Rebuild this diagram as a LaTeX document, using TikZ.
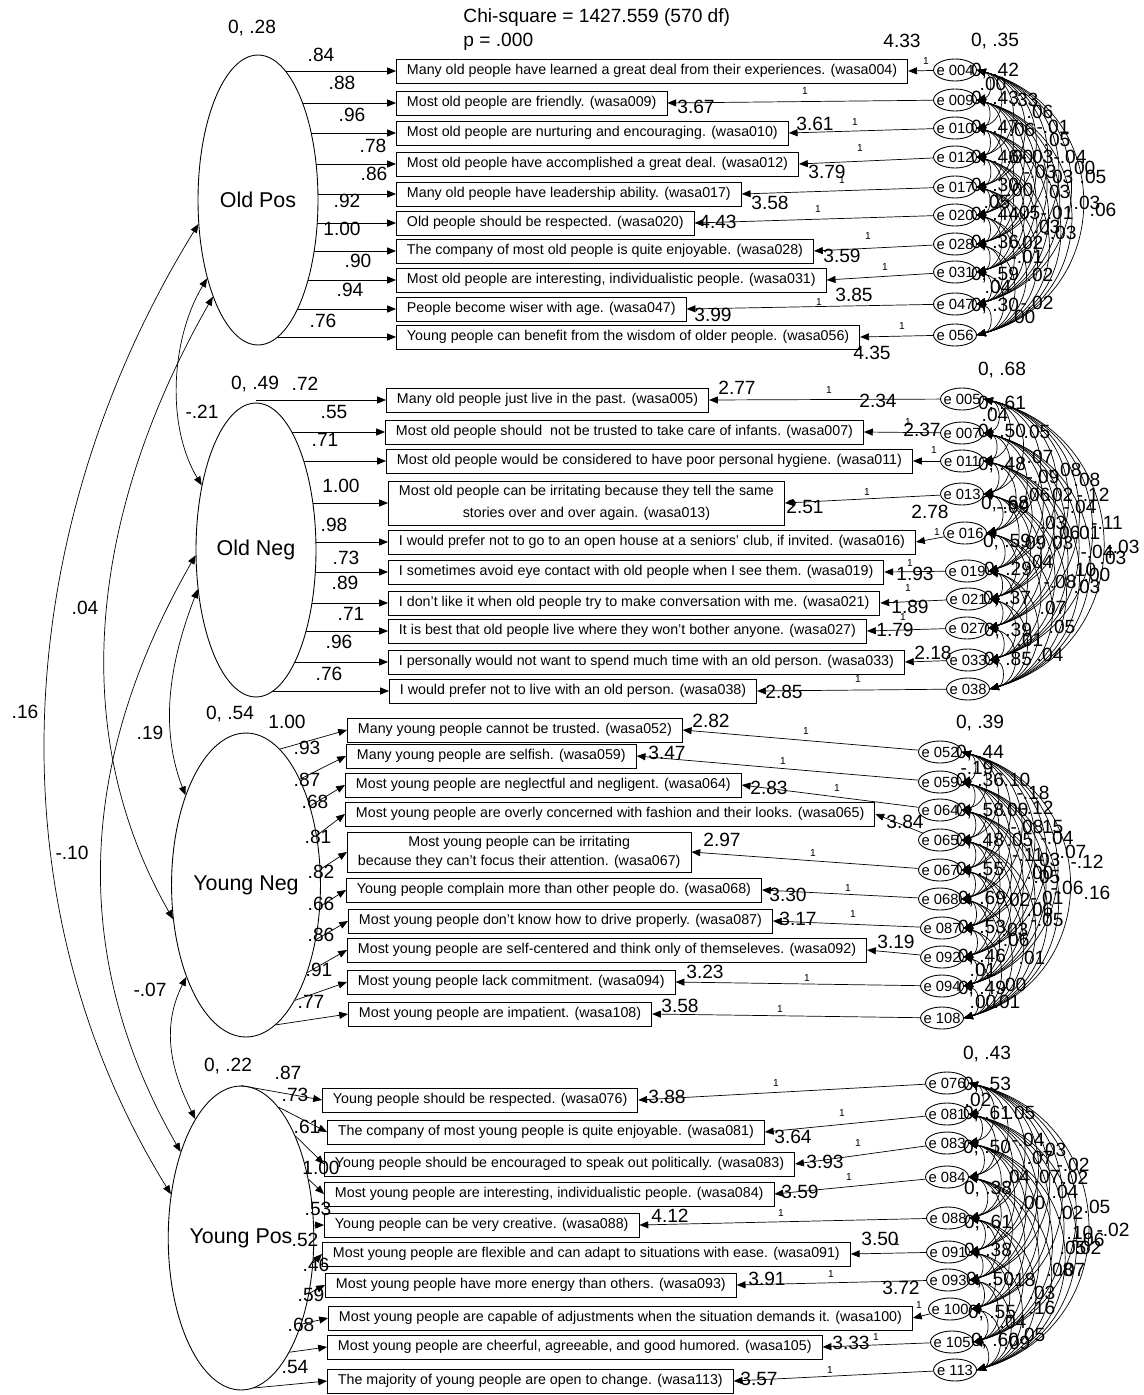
\documentclass[tikz,border=0pt]{standalone}
\usepackage{fontspec}
\setmainfont{Liberation Sans}
\usetikzlibrary{shapes.geometric,arrows.meta}
\pgfdeclarelayer{bg}
\pgfsetlayers{bg,main}
\newcommand{\ename}[1]{\makebox[0pt]{e #1}}
\tikzset{
  >={Triangle[length=5pt,width=4pt]},
  latent/.style={draw, ellipse, fill=white, inner sep=0pt, font=\fontsize{12.2}{14}\selectfont},
  item/.style={draw, anchor=west, inner xsep=6pt, inner ysep=1pt, minimum height=0.48cm, font=\fontsize{8.1}{9.7}\selectfont},
  err/.style={draw, ellipse, inner sep=0pt, minimum width=0.86cm, minimum height=0.44cm, font=\fontsize{8.4}{9}\selectfont},
  num/.style={inner sep=0pt, font=\fontsize{10.9}{12}\selectfont},
  one/.style={inner sep=0pt, font=\fontsize{5.8}{7}\selectfont},
}
\begin{document}
\begin{tikzpicture}[x=0.02cm, y=-0.02cm, line width=0.5pt]
\useasboundingbox (0,0) rectangle (1143,1395);

\node[num, anchor=west] (chi) at (463,18) {Chi-square = 1427.559 (570 df)};
\node[num, anchor=west] (pval) at (463,42) {p = .000};

% latent factors
\node[latent, minimum width=2.4cm, minimum height=5.8cm] (OldPos) at (258,200) {Old Pos};
\node[latent, minimum width=2.4cm, minimum height=5.88cm] (OldNeg) at (256,550) {Old Neg};
\node[latent, minimum width=2.36cm, minimum height=6.08cm] (YoungNeg) at (246,885) {Young Neg};
\node[latent, minimum width=2.4cm, minimum height=6.08cm] (YoungPos) at (241,1238) {Young Pos};
\node[num] at (252,28) {0, .28};
\node[num] at (255,384) {0, .49};
\node[num] at (230,714) {0, .54};
\node[num] at (228,1066) {0, .22};

% Old Pos items
\node[item] (b004) at (396,71) {Many old people have learned a great deal from their experiences. (wasa004)};
\node[item] (b009) at (396,103) {Most old people are friendly. (wasa009)};
\node[item] (b010) at (396,133) {Most old people are nurturing and encouraging. (wasa010)};
\node[item] (b012) at (396,164) {Most old people have accomplished a great deal. (wasa012)};
\node[item] (b017) at (396,194) {Many old people have leadership ability. (wasa017)};
\node[item] (b020) at (396,223) {Old people should be respected. (wasa020)};
\node[item] (b028) at (396,251) {The company of most old people is quite enjoyable. (wasa028)};
\node[item] (b031) at (396,280) {Most old people are interesting, individualistic people. (wasa031)};
\node[item] (b047) at (396,309) {People become wiser with age. (wasa047)};
\node[item] (b056) at (396,337) {Young people can benefit from the wisdom of older people. (wasa056)};

% Old Neg items
\node[item] (b005) at (386,400) {Many old people just live in the past. (wasa005)};
\node[item] (b007) at (385,432) {Most old people should\ \ not be trusted to take care of infants. (wasa007)};
\node[item] (b011) at (386,461) {Most old people would be considered to have poor personal hygiene. (wasa011)};
\node[item, align=center, minimum height=0.88cm] (b013) at (388,503) {Most old people can be irritating because they tell the same\\[3pt] stories over and over again. (wasa013)};
\node[item] (b016) at (388,542) {I would prefer not to go to an open house at a seniors' club, if invited. (wasa016)};
\node[item] (b019) at (388,572) {I sometimes avoid eye contact with old people when I see them. (wasa019)};
\node[item] (b021) at (388,603) {I don't like it when old people try to make conversation with me. (wasa021)};
\node[item] (b027) at (388,631) {It is best that old people live where they won't bother anyone. (wasa027)};
\node[item] (b033) at (388,662) {I personally would not want to spend much time with an old person. (wasa033)};
\node[item] (b038) at (389,691) {I would prefer not to live with an old person. (wasa038)};

% Young Neg items
\node[item] (b052) at (347,730) {Many young people cannot be trusted. (wasa052)};
\node[item] (b059) at (346,756) {Many young people are selfish. (wasa059)};
\node[item] (b064) at (345,785) {Most young people are neglectful and negligent. (wasa064)};
\node[item] (b065) at (345,814) {Most young people are overly concerned with fashion and their looks. (wasa065)};
\node[item, align=center, minimum height=0.8cm] (b067) at (347,852) {Most young people can be irritating\\[1pt] because they can't focus their attention. (wasa067)};
\node[item] (b068) at (346,890) {Young people complain more than other people do. (wasa068)};
\node[item] (b087) at (348,921) {Most young people don't know how to drive properly. (wasa087)};
\node[item] (b092) at (347,950) {Most young people are self-centered and think only of themseleves. (wasa092)};
\node[item] (b094) at (347,982) {Most young people lack commitment. (wasa094)};
\node[item] (b108) at (348,1014) {Most young people are impatient. (wasa108)};

% Young Pos items
\node[item] (b076) at (322,1100) {Young people should be respected. (wasa076)};
\node[item] (b081) at (327,1132) {The company of most young people is quite enjoyable. (wasa081)};
\node[item] (b083) at (324,1164) {Young people should be encouraged to speak out politically. (wasa083)};
\node[item] (b084) at (324,1194) {Most young people are interesting, individualistic people. (wasa084)};
\node[item] (b088) at (324,1225) {Young people can be very creative. (wasa088)};
\node[item] (b091) at (322,1254) {Most young people are flexible and can adapt to situations with ease. (wasa091)};
\node[item] (b093) at (325,1285) {Most young people have more energy than others. (wasa093)};
\node[item] (b100) at (328,1318) {Most young people are capable of adjustments when the situation demands it. (wasa100)};
\node[item] (b105) at (327,1347) {Most young people are cheerful, agreeable, and good humored. (wasa105)};
\node[item] (b113) at (327,1381) {The majority of young people are open to change. (wasa113)};

% error terms
\node[err, alias=A1] (e004) at (955,70) {\ename{004}};
\node[err, alias=A2] (e009) at (955,100) {\ename{009}};
\node[err, alias=A3] (e010) at (955,128) {\ename{010}};
\node[err, alias=A4] (e012) at (955,157) {\ename{012}};
\node[err, alias=A5] (e017) at (955,187) {\ename{017}};
\node[err, alias=A6] (e020) at (955,215) {\ename{020}};
\node[err, alias=A7] (e028) at (955,244) {\ename{028}};
\node[err, alias=A8] (e031) at (955,272) {\ename{031}};
\node[err, alias=A9] (e047) at (955,304) {\ename{047}};
\node[err, alias=A10] (e056) at (955,335) {\ename{056}};

\node[err, alias=B1] (e005) at (962,399) {\ename{005}};
\node[err, alias=B2] (e007) at (962,433) {\ename{007}};
\node[err, alias=B3] (e011) at (962,461) {\ename{011}};
\node[err, alias=B4] (e013) at (962,494) {\ename{013}};
\node[err, alias=B5] (e016) at (965,533) {\ename{016}};
\node[err, alias=B6] (e019) at (967,571) {\ename{019}};
\node[err, alias=B7] (e021) at (968,599) {\ename{021}};
\node[err, alias=B8] (e027) at (967,628) {\ename{027}};
\node[err, alias=B9] (e033) at (968,660) {\ename{033}};
\node[err, alias=B10] (e038) at (968,689) {\ename{038}};

\node[err, alias=C1] (e052) at (940,752) {\ename{052}};
\node[err, alias=C2] (e059) at (940,782) {\ename{059}};
\node[err, alias=C3] (e064) at (940,810) {\ename{064}};
\node[err, alias=C4] (e065) at (940,840) {\ename{065}};
\node[err, alias=C5] (e067) at (940,870) {\ename{067}};
\node[err, alias=C6] (e068) at (940,899) {\ename{068}};
\node[err, alias=C7] (e087) at (942,928) {\ename{087}};
\node[err, alias=C8] (e092) at (942,957) {\ename{092}};
\node[err, alias=C9] (e094) at (942,986) {\ename{094}};
\node[err, alias=C10] (e108) at (942,1018) {\ename{108}};

\node[err, alias=D1] (e076) at (947,1083) {\ename{076}};
\node[err, alias=D2] (e081) at (947,1114) {\ename{081}};
\node[err, alias=D3] (e083) at (947,1143) {\ename{083}};
\node[err, alias=D4] (e084) at (947,1177) {\ename{084}};
\node[err, alias=D5] (e088) at (948,1218) {\ename{088}};
\node[err, alias=D6] (e091) at (948,1252) {\ename{091}};
\node[err, alias=D7] (e093) at (948,1280) {\ename{093}};
\node[err, alias=D8] (e100) at (950,1309) {\ename{100}};
\node[err, alias=D9] (e105) at (952,1342) {\ename{105}};
\node[err, alias=D10] (e113) at (955,1370) {\ename{113}};

% loadings
\begin{pgfonlayer}{bg}
\foreach \n in {004,009,010,012,017,020,028,031,047,056}
  \draw[->] (OldPos.center |- b\n.west) -- (b\n.west);
\foreach \n in {005,007,011,013,016,019,021,027,033,038}
  \draw[->] (OldNeg.center |- b\n.west) -- (b\n.west);
\end{pgfonlayer}
\foreach \a/\n in {76/052,63/059,51/064,35/065,12/067,344/068,322/087,305/092,293/094,282/108}
  \draw[->] (YoungNeg.\a) -- (b\n.west);
\foreach \a/\n in {90/076,74/081,62/083,41/084,10/088,341/091,321/093,305/100,293/105,275/113}
  \draw[->] (YoungPos.\a) -- (b\n.west);

\foreach \x/\y/\v in {321/55/.84,342/83/.88,352/115/.96,373/146/.78,374/174/.86,347/201/.92,342/229/1.00,358/261/.90,350/290/.94,323/321/.76,
  305/384/.72,334/412/.55,325/440/.71,341/486/1.00,334/525/.98,346/558/.73,345/583/.89,351/614/.71,339/642/.96,329/674/.76,
  287/722/1.00,307/748/.93,307/780/.87,315/802/.68,318/837/.81,321/872/.82,321/904/.66,321/935/.86,319/970/.91,311/1002/.77,
  288/1073/.87,295/1095/.73,307/1127/.61,321/1168/1.00,318/1209/.53,305/1240/.52,316/1265/.46,311/1295/.59,301/1325/.68,295/1367/.54}
  \node[num] at (\x,\y) {\v};

% factor covariances
\draw[<->] (OldPos.202) .. controls +(-185,300) and +(-185,-300) .. (YoungPos.148);
\draw[<->] (OldPos.245) .. controls +(-114,200) and +(-114,-200) .. (YoungNeg.205);
\draw[<->] (OldNeg.185) .. controls +(-115,200) and +(-115,-200) .. (YoungPos.125);
\draw[<->] (OldPos.237) .. controls +(-36,60) and +(-36,-60) .. (OldNeg.130);
\draw[<->] (OldNeg.214) .. controls +(-27,70) and +(-27,-70) .. (YoungNeg.124);
\draw[<->] (YoungNeg.237) .. controls +(-25,50) and +(-25,-50) .. (YoungPos.111);
\node[num] at (25,712) {.16};
\node[num] at (85,608) {.04};
\node[num] at (72,853) {-.10};
\node[num] at (202,412) {-.21};
\node[num] at (150,733) {.19};
\node[num] at (150,990) {-.07};

% error paths
\foreach \n/\x/\y in {004/926/61,009/805/91,010/855/122,012/860/148,017/842/180,020/818/209,028/868/236,031/885/267,047/819/302,056/902/326,
  005/829/390,007/908/422,011/934/450,013/867/492,016/937/532,019/910/563,021/908/588,027/903/617,038/858/679,
  052/806/731,059/783/761,064/837/788,067/813/853,068/848/888,087/853/914,094/807/978,108/780/1009,
  076/776/1083,081/842/1113,083/858/1143,084/849/1177,088/781/1213,091/897/1242,093/831/1274,100/919/1305,105/876/1337,113/830/1370}
  \node[one] at (\x,\y) {1};
\foreach \n in {004,009,010,012,017,020,028,031,047,056,005,007,011,013,016,019,021,027,033,038,
  052,059,064,065,067,068,087,092,094,108,076,081,083,084,088,091,093,100,105,113}
  \draw[->] (e\n) -- (b\n.east);

% intercepts
\foreach \x/\y/\v in {902/41/4.33,696/107/3.67,815/124/3.61,827/172/3.79,770/203/3.58,718/222/4.43,842/256/3.59,854/295/3.85,713/315/3.99,872/353/4.35,
  737/388/2.77,878/401/2.34,922/430/2.37,805/507/2.51,930/512/2.78,915/574/1.93,910/607/1.89,895/630/1.79,933/653/2.18,784/692/2.85,
  711/721/2.82,667/753/3.47,769/788/2.83,905/822/3.84,722/840/2.97,788/895/3.30,798/919/3.17,896/942/3.19,705/972/3.23,680/1006/3.58,
  667/1097/3.88,793/1137/3.64,825/1162/3.93,800/1192/3.59,670/1216/4.12,880/1239/3.50,767/1279/3.91,901/1288/3.72,851/1343/3.33,759/1379/3.57}
  \node[num] at (\x,\y) {\v};

% error covariances
\foreach \g in {A,B,C,D} {
  \foreach \i in {1,...,9} {
    \pgfmathtruncatemacro\k{\i+1}
    \foreach \j in {\k,...,10}
      \draw[<->] (\g\i.east) to[bend left=75, looseness=1.4] (\g\j.east);
  }
}

% error variances
\foreach \n/\v in {004/.35,009/.42,010/.43,012/.47,017/.46,020/.30,028/.44,031/.36,047/.59,056/.30,
  005/.68,007/.61,011/.50,013/.48,016/.68,019/.59,021/.29,027/.37,033/.39,038/.85,
  052/.39,059/.44,064/.36,065/.58,067/.48,068/.55,087/.69,092/.53,094/.46,108/.49,
  076/.43,081/.53,083/.61,084/.50,088/.38,091/.61,093/.38,100/.50,105/.55,113/.60}
  \node[num] at ([shift={(40,-29)}]e\n.center) {0, \v};

% covariance estimates
\foreach \x/\y/\v in {993/84/.00,1025/100/.33,1040/112/.06,1053/127/-.01,1022/130/.06,1057/140/.05,1020/157/.00,1037/157/-.03,1070/157/-.04,
  1040/172/-.03,1060/177/.03,1082/168/.00,1093/177/.05,1020/190/.00,1057/192/.03,997/202/.05,1027/213/.05,1057/213/-.01,1087/203/.03,
  1103/210/.06,1047/227/.03,1060/233/-.03,1030/243/.02,1027/257/-.01,1040/275/.02,998/287/.04,1037/303/-.02,1022/317/.00,
  995/415/.04,1037/432/.05,1040/457/.07,1065/470/-.08,1087/480/.08,1043/477/-.09,1037/495/.06,1060/495/.02,1093/495/-.12,
  1080/507/-.04,1013/507/-.09,1107/523/-.11,1053/523/.03,1067/533/.06,1087/533/.01,1097/552/-.04,1123/547/-.03,1113/558/.03,
  1033/543/.09,1060/543/.03,1040/562/.04,1083/570/.10,1097/575/.00,1060/582/-.08,1087/587/.03,1053/608/.07,1062/627/.05,
  1030/640/.01,1050/655/.04,
  977/768/-.19,1017/780/.10,1033/793/-.18,1015/810/.00,1037/808/-.12,1027/827/-.08,1050/827/.15,1020/840/.05,1057/838/-.04,
  1028/855/-.11,1047/860/.03,1073/852/.07,1087/862/-.12,1040/873/.00,1047/877/.05,1067/888/-.06,1097/893/.16,1017/900/.02,
  1047/898/-.01,1040/910/.06,1047/920/-.05,1015/930/.03,1013/940/-.06,1032/958/.01,983/970/.01,1013/985/.00,983/1002/.00,1007/1002/.01,
  978/1100/.02,1022/1113/.05,1028/1140/-.04,1053/1150/.03,1040/1158/.07,1073/1165/-.02,1017/1177/.04,1047/1177/.07,1075/1178/.02,
  1065/1192/.04,1032/1203/.00,1097/1207/.05,1070/1213/.02,1113/1230/-.02,1080/1233/.10,1088/1240/-.06,1088/1248/.02,1073/1248/.05,
  1072/1270/.07,1060/1270/.08,1022/1280/.18,1042/1293/.03,1042/1308/.16,1013/1322/.04,1032/1335/.05,1017/1343/.09}
  \node[num] at (\x,\y) {\v};
\end{tikzpicture}
\end{document}
